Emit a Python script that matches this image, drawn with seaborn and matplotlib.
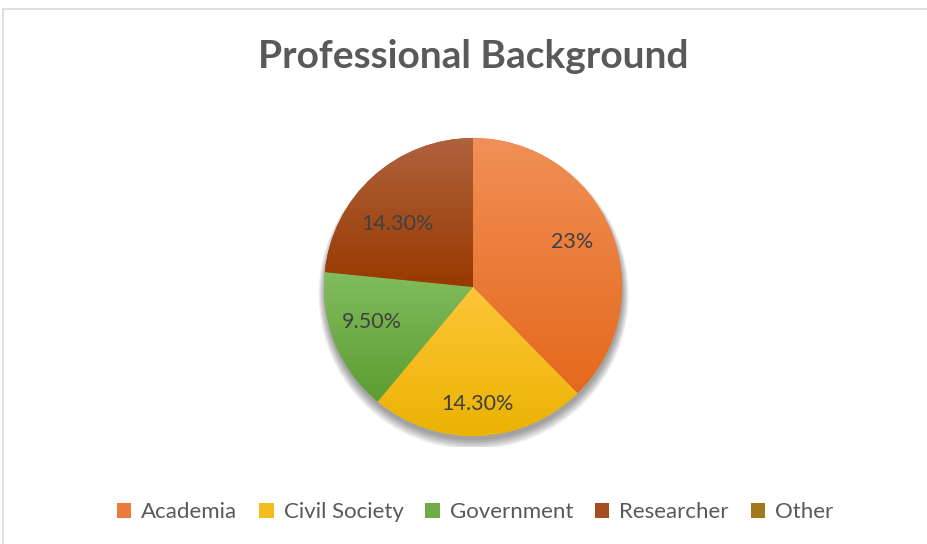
import numpy as np
import matplotlib
matplotlib.use("Agg")
import matplotlib.pyplot as plt
from matplotlib.colors import LinearSegmentedColormap
from matplotlib.patches import Patch, Circle
from matplotlib.lines import Line2D
import seaborn as sns

# Data
categories = ["Academia", "Civil Society", "Government", "Researcher", "Other"]
shares = [23, 14.3, 9.5, 14.3, 0]

# Slice colours: lighter top, darker bottom of each gradient
top_colors = ["#F19056", "#FFC63A", "#82BD5E", "#B0623E", "#A8843A"]
bottom_colors = ["#E4681C", "#EAB200", "#5C9C30", "#983A00", "#9A6E00"]

sns.set_theme(style="white")
plt.rcParams["font.family"] = ["Lato", "DejaVu Sans"]

W, H = 928, 544
fig = plt.figure(figsize=(W / 100, H / 100), dpi=100)
fig.patch.set_facecolor("white")

mid_colors = [sns.blend_palette([t, b], 3)[1] for t, b in zip(top_colors, bottom_colors)]


def fmt(v):
    return f"{v:.0f}%" if float(v).is_integer() else f"{v:.2f}%"


# Pie axes positioned in pixel terms
cx, cy, R = 473, 287, 149
half = 160
ax = fig.add_axes([(cx - half) / W, (H - cy - half) / H, 2 * half / W, 2 * half / H])
lim = half / R

# Soft drop shadow below the pie
for i in range(6):
    ax.add_patch(Circle((0.004, -0.03 - 0.004 * i), 1.0 + 0.008 * i, color="#000000",
                        alpha=0.07, lw=0, zorder=0))

wedges, _ = ax.pie(shares, colors=mid_colors, startangle=90, counterclock=False,
                   radius=1.0, wedgeprops=dict(linewidth=0, zorder=1))

# Vertical gradient fill per slice, spanning each slice's own height
grad = np.linspace(1, 0, 256).reshape(-1, 1)
for w, t, b, s in zip(wedges, top_colors, bottom_colors, shares):
    if s <= 0:
        continue
    pts = w.get_patch_transform().transform(w.get_path().vertices)
    x0, x1 = pts[:, 0].min(), pts[:, 0].max()
    y0, y1 = pts[:, 1].min(), pts[:, 1].max()
    cmap = LinearSegmentedColormap.from_list("g", [b, t])
    im = ax.imshow(grad, extent=[x0 - 0.01, x1 + 0.01, y0 - 0.01, y1 + 0.01], cmap=cmap,
                   aspect="auto", origin="upper", zorder=2, interpolation="bilinear")
    im.set_clip_path(w)

# Value labels
total = sum(shares)
label_r = [0.73, 0.786, 0.717, 0.657, 0.7]
label_shift = [2.0, 0.0, -3.2, 8.0, 0.0]
start = 90.0
for s, r, d in zip(shares, label_r, label_shift):
    if s <= 0:
        continue
    ang = start - 360 * s / total / 2 + d
    start -= 360 * s / total
    x, y = r * np.cos(np.radians(ang)), r * np.sin(np.radians(ang))
    ax.text(x, y, fmt(s), ha="center", va="center", fontsize=15.5, color="#404040", zorder=5)

ax.set_xlim(-lim, lim)
ax.set_ylim(-lim, lim)
ax.set_aspect("equal")
ax.axis("off")

# Title
fig.text(cx / W, 1 - 57 / H, "Professional Background", ha="center", va="center",
         fontsize=28, fontweight="bold", color="#595959")

# Legend
handles = [Patch(facecolor=m, edgecolor="none") for m in mid_colors]
fig.legend(handles, categories, loc="center", bbox_to_anchor=(475 / W, 1 - 512 / H),
           ncol=5, frameon=False, fontsize=16, labelcolor="#595959",
           handlelength=0.65, handleheight=0.65, handletextpad=0.45, columnspacing=0.98)

# Chart border (top and left edges visible)
fig.add_artist(Line2D([3 / W, 1.0], [1 - 8.5 / H, 1 - 8.5 / H], color="#D9D9D9", lw=1.2,
                      transform=fig.transFigure))
fig.add_artist(Line2D([3.5 / W, 3.5 / W], [0.0, 1 - 8.5 / H], color="#D9D9D9", lw=1.2,
                      transform=fig.transFigure))

fig.savefig("out.png", dpi=100, facecolor="white")
